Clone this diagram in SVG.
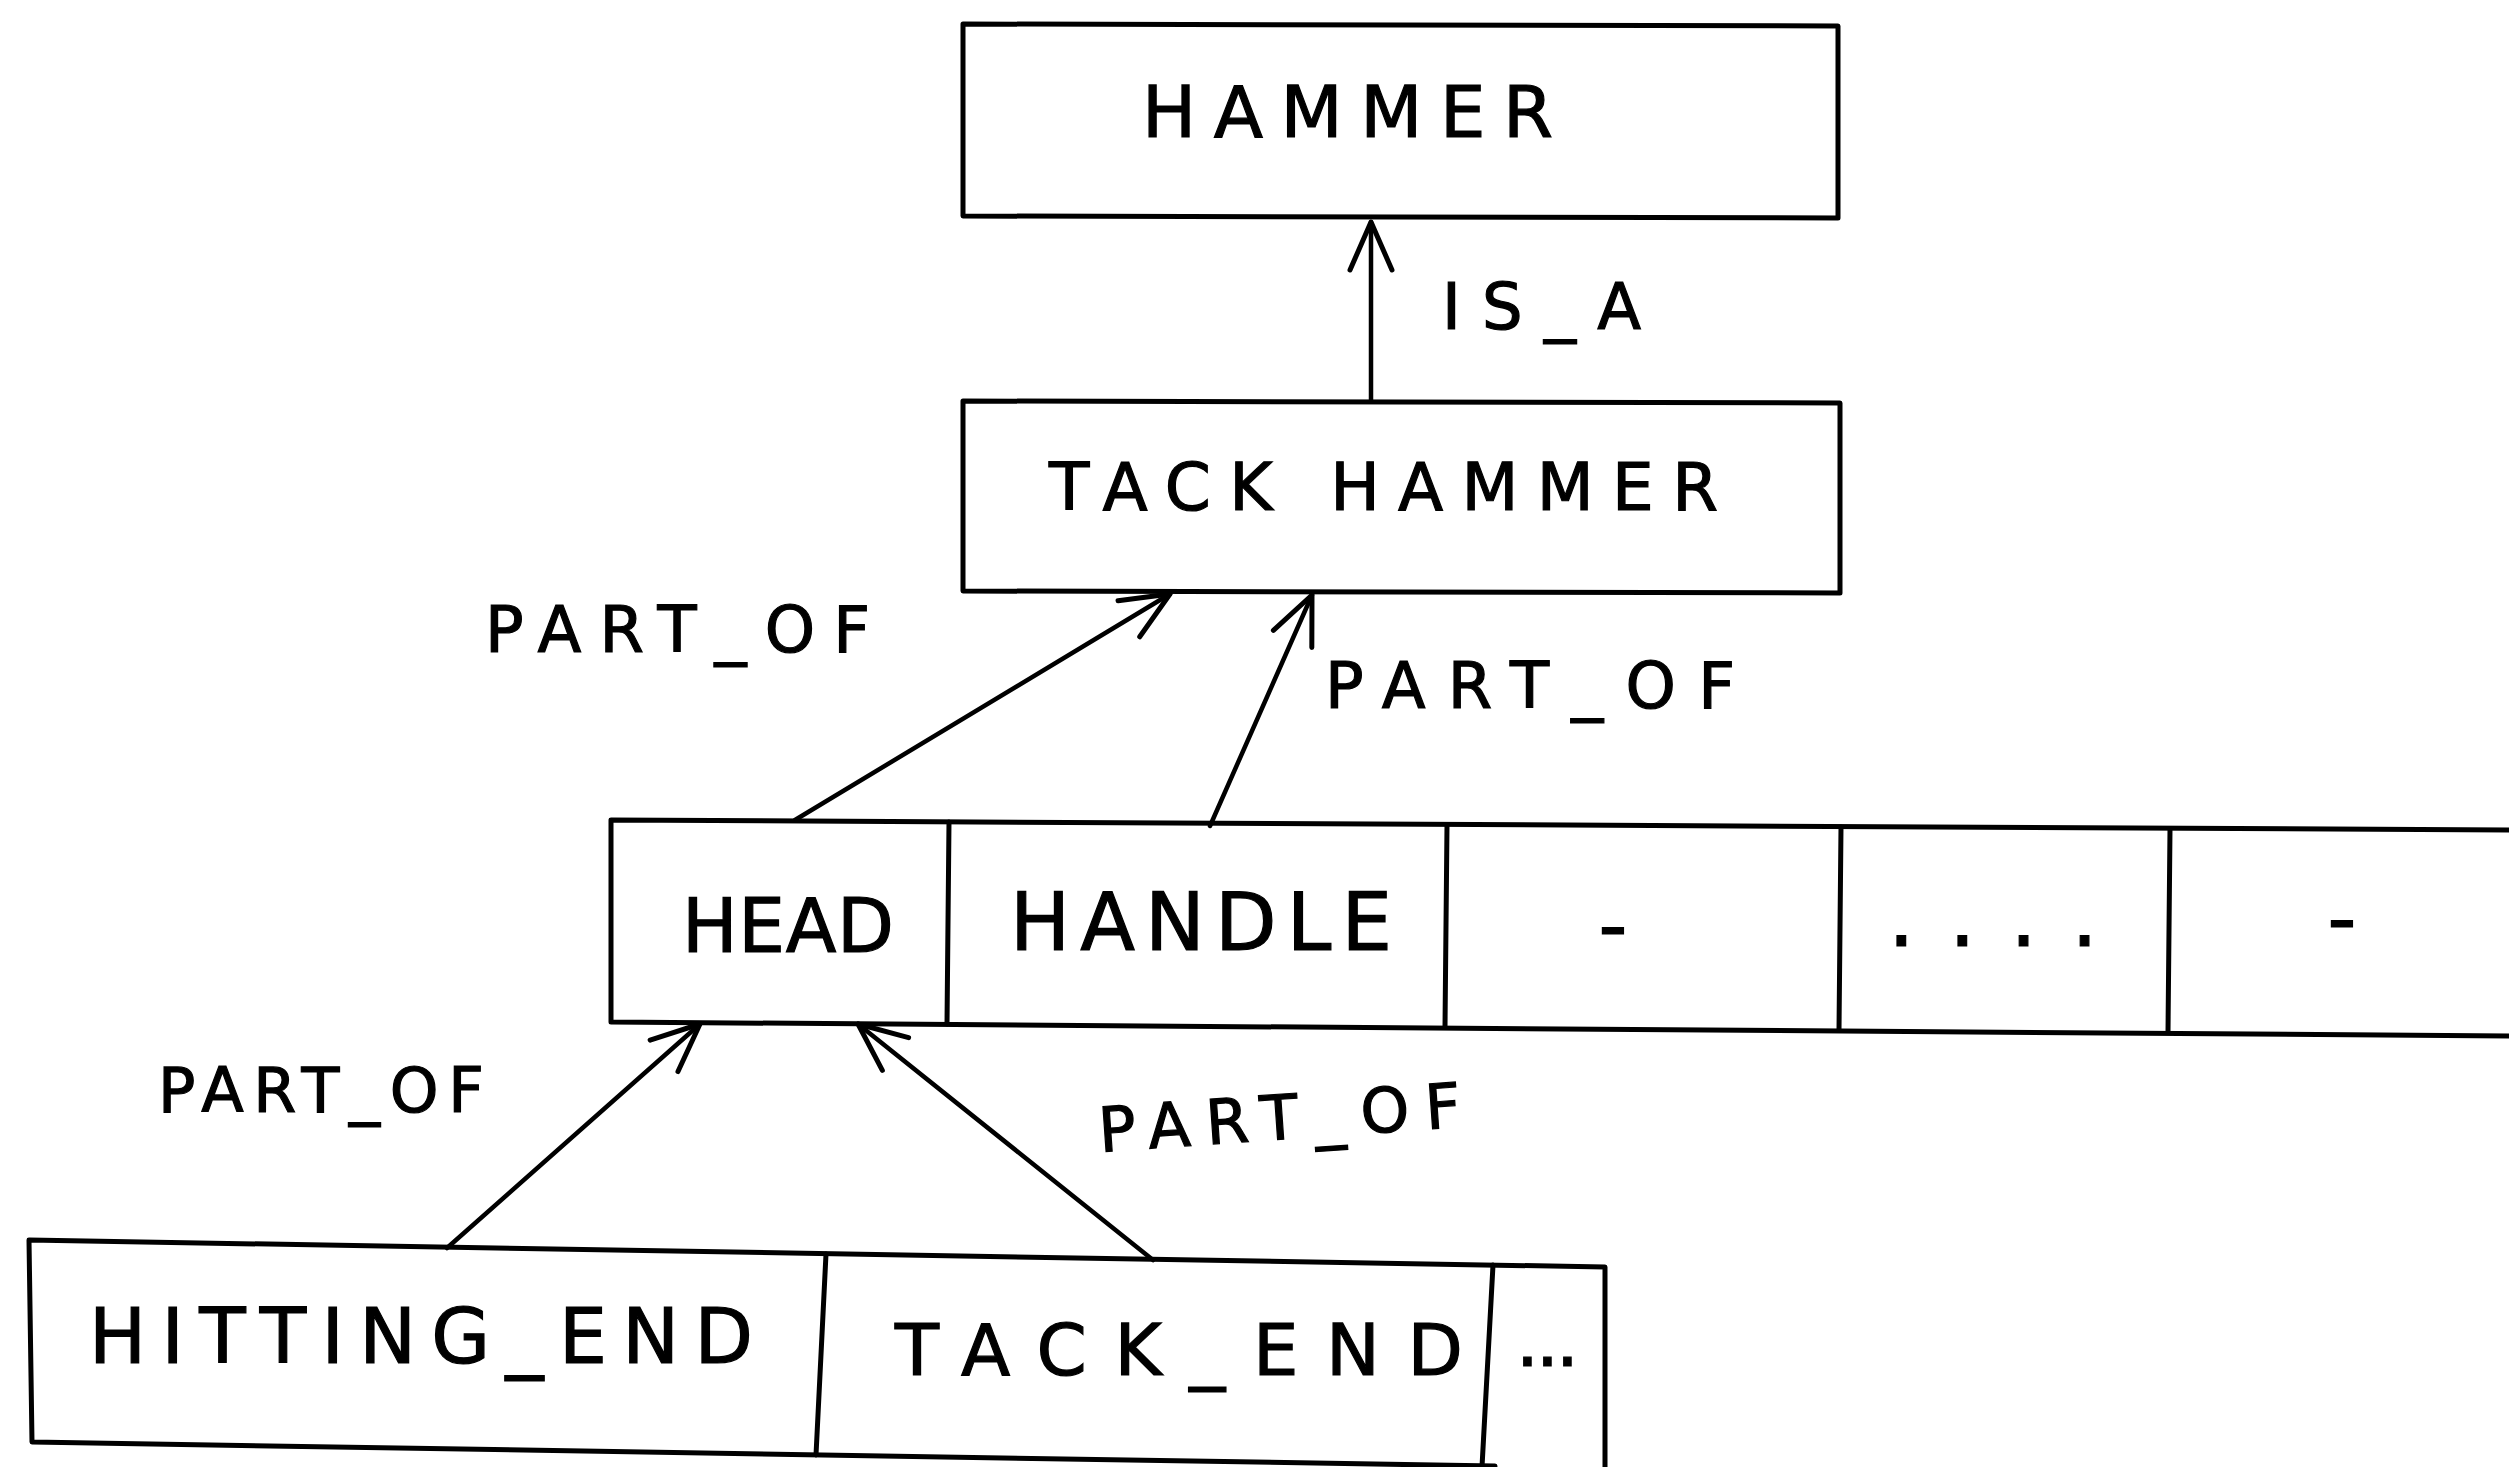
<svg xmlns="http://www.w3.org/2000/svg" width="2509" height="1467" viewBox="0 0 2509 1467">
  <style>
    .box { fill: none; stroke: #000; stroke-width: 5; stroke-linejoin: round; stroke-linecap: round; }
    .edge { fill: none; stroke: #000; stroke-width: 4.5; stroke-linecap: round; }
    .lbl { font-family: "DejaVu Sans", "Liberation Sans", sans-serif; fill: #000; stroke: #000; stroke-width: 1.2; }
  </style>
  <defs>
    <marker id="arrow" markerUnits="userSpaceOnUse" markerWidth="80" markerHeight="80" viewBox="-60 -40 80 80" refX="0" refY="0" orient="auto">
      <path d="M -48,-21 L 0,0 L -48,21" fill="none" stroke="#000" stroke-width="5" stroke-linecap="round" stroke-linejoin="round"/>
    </marker>
  </defs>
  <rect width="2509" height="1467" fill="#fff"/>

  <!-- top concept -->
  <g id="hammer">
    <polygon class="box" points="963,24 1838,26 1838,218 963,216"/>
    <text class="lbl" x="1142" y="137" font-size="72" textLength="411" lengthAdjust="spacing">HAMMER</text>
  </g>

  <g id="tack-hammer">
    <polygon class="box" points="963,401 1840,403 1840,593 963,591"/>
    <text class="lbl" x="1049" y="510" font-size="66" textLength="669" lengthAdjust="spacing">TACK HAMMER</text>
  </g>

  <!-- parts of the tack hammer -->
  <g id="parts-row">
    <path class="box" d="M 611,820 L 2509,830 M 611,1022 L 2509,1036 M 611,820 L 611,1022"/>
    <line class="box" x1="949" y1="822" x2="947" y2="1024"/>
    <line class="box" x1="1447" y1="825" x2="1445" y2="1027"/>
    <line class="box" x1="1841" y1="827" x2="1839" y2="1030"/>
    <line class="box" x1="2170" y1="829" x2="2168" y2="1032"/>
  </g>
  <g id="head">
    <text class="lbl" x="682" y="952" font-size="74" textLength="212" lengthAdjust="spacing">HEAD</text>
  </g>
  <g id="handle">
    <text class="lbl" x="1010" y="950" font-size="80" textLength="382" lengthAdjust="spacing">HANDLE</text>
  </g>
  <g id="part-3">
    <text class="lbl" x="1613" y="953" font-size="80" text-anchor="middle">-</text>
  </g>
  <g id="part-more">
    <text class="lbl" x="1888" y="946" font-size="84" textLength="210" lengthAdjust="spacing">....</text>
  </g>
  <g id="part-last">
    <text class="lbl" x="2342" y="946" font-size="80" text-anchor="middle">-</text>
  </g>

  <!-- parts of the head -->
  <g id="head-parts-row">
    <path class="box" d="M 29,1240 L 1605,1267 L 1605,1467 M 29,1240 L 32,1442 L 1495,1466"/>
    <line class="box" x1="826" y1="1254" x2="816" y2="1455"/>
    <line class="box" x1="1493" y1="1265" x2="1482" y2="1467"/>
  </g>
  <g id="hitting-end">
    <text class="lbl" x="89" y="1363" font-size="76" textLength="664" lengthAdjust="spacing">HITTING_END</text>
  </g>
  <g id="tack-end">
    <text class="lbl" x="895" y="1375" font-size="72" textLength="568" lengthAdjust="spacing">TACK_END</text>
  </g>
  <g id="head-part-more">
    <text class="lbl" x="1516" y="1366" font-size="72" textLength="63" lengthAdjust="spacing">...</text>
  </g>

  <!-- relations -->
  <g id="connectors">
    <line class="edge" x1="1371" y1="401" x2="1371" y2="222" marker-end="url(#arrow)"/>
    <text class="lbl" x="1442" y="329" font-size="64" textLength="199" lengthAdjust="spacing">IS_A</text>

    <line class="edge" x1="795" y1="820" x2="1170" y2="594" marker-end="url(#arrow)"/>
    <text class="lbl" x="485" y="652" font-size="64" textLength="385" lengthAdjust="spacing">PART_OF</text>

    <line class="edge" x1="1210" y1="826" x2="1312" y2="595" marker-end="url(#arrow)"/>
    <text class="lbl" x="1325" y="708" font-size="64" textLength="410" lengthAdjust="spacing">PART_OF</text>

    <line class="edge" x1="447" y1="1248" x2="700" y2="1024" marker-end="url(#arrow)"/>
    <text class="lbl" x="158" y="1112" font-size="62" textLength="326" lengthAdjust="spacing">PART_OF</text>

    <line class="edge" x1="1153" y1="1260" x2="858" y2="1024" marker-end="url(#arrow)"/>
    <text class="lbl" x="1100" y="1152" font-size="62" textLength="363" lengthAdjust="spacing" transform="rotate(-4 1100 1152)">PART_OF</text>
  </g>
</svg>
